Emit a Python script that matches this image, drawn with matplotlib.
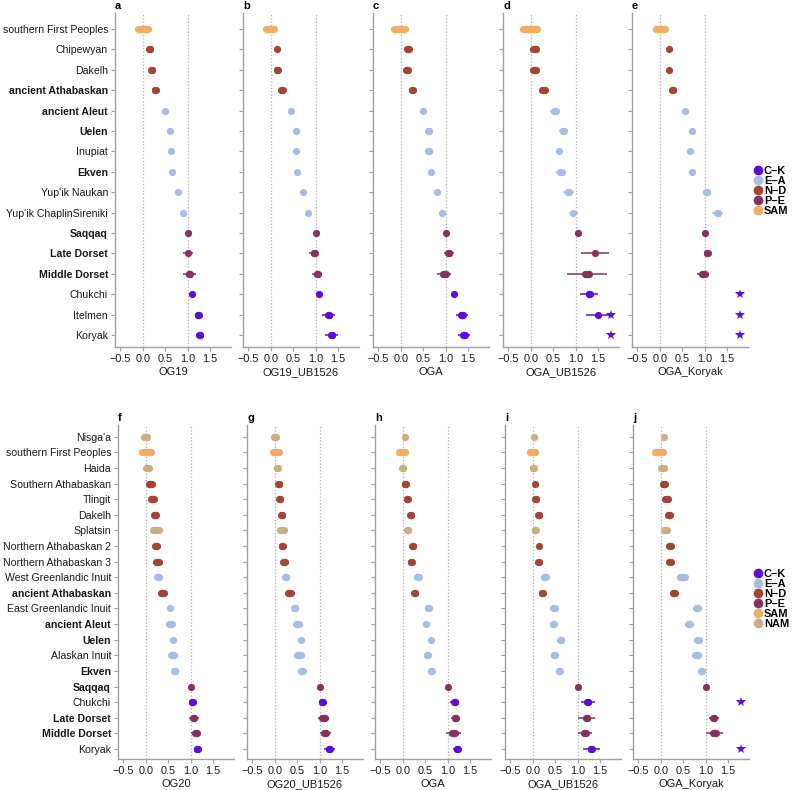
import numpy as np
import matplotlib
matplotlib.use("Agg")
import matplotlib.pyplot as plt
from matplotlib.lines import Line2D

plt.rcParams['font.family'] = ['Liberation Sans', 'DejaVu Sans']

# --- DATA ---
nan = np.nan

group_names = ["C–K", "E–A", "N–D", "P–E", "SAM", "NAM"]
group_colors = {"C–K": "#5b0fd6", "E–A": "#a8bde3", "N–D": "#a34436",
                "P–E": "#86325f", "SAM": "#f0ae62", "NAM": "#c9ae84"}

top_pops = ["southern First Peoples", "Chipewyan", "Dakelh", "ancient Athabaskan",
            "ancient Aleut", "Uelen", "Inupiat", "Ekven", "Yup'ik Naukan",
            "Yup'ik ChaplinSireniki", "Saqqaq", "Late Dorset", "Middle Dorset",
            "Chukchi", "Itelmen", "Koryak"]
top_groups = ["SAM", "N–D", "N–D", "N–D", "E–A", "E–A", "E–A", "E–A", "E–A", "E–A",
              "P–E", "P–E", "P–E", "C–K", "C–K", "C–K"]
top_bold = ["ancient Athabaskan", "ancient Aleut", "Uelen", "Ekven", "Saqqaq",
            "Late Dorset", "Middle Dorset"]

bot_pops = ["Nisga'a", "southern First Peoples", "Haida", "Southern Athabaskan",
            "Tlingit", "Dakelh", "Splatsin", "Northern Athabaskan 2",
            "Northern Athabaskan 3", "West Greenlandic Inuit", "ancient Athabaskan",
            "East Greenlandic Inuit", "ancient Aleut", "Uelen", "Alaskan Inuit",
            "Ekven", "Saqqaq", "Chukchi", "Late Dorset", "Middle Dorset", "Koryak"]
bot_groups = ["NAM", "SAM", "NAM", "N–D", "N–D", "N–D", "NAM", "N–D", "N–D", "E–A",
              "N–D", "E–A", "E–A", "E–A", "E–A", "E–A", "P–E", "C–K", "P–E", "P–E", "C–K"]
bot_bold = ["ancient Athabaskan", "ancient Aleut", "Uelen", "Ekven", "Saqqaq",
            "Late Dorset", "Middle Dorset"]

# estimate, half-width of the thick band, half-width of the thin interval
a_est = [0.0, 0.16, 0.2, 0.28, 0.5, 0.6, 0.62, 0.65, 0.78, 0.89, 1.0, 1.01, 1.04, 1.1, 1.24, 1.27]
a_band = [0.11, 0.01, 0.01, 0.01, 0, 0, 0, 0, 0, 0, 0, 0.01, 0.01, 0, 0.01, 0.01]
a_ci = [0, 0, 0, 0, 0, 0, 0, 0, 0, 0, 0, 0.11, 0.14, 0, 0.08, 0.08]
a_star = []

b_est = [-0.01, 0.14, 0.15, 0.25, 0.46, 0.57, 0.56, 0.59, 0.72, 0.84, 1.0, 0.97, 1.04, 1.08, 1.29, 1.36]
b_band = [0.09, 0.01, 0.01, 0.015, 0, 0, 0, 0, 0, 0, 0, 0.01, 0.01, 0.005, 0.015, 0.015]
b_ci = [0, 0, 0, 0, 0, 0, 0, 0, 0, 0, 0, 0.11, 0.11, 0.06, 0.14, 0.14]
b_star = []

c_est = [-0.03, 0.17, 0.14, 0.26, 0.5, 0.62, 0.62, 0.68, 0.81, 0.93, 1.0, 1.07, 0.97, 1.19, 1.37, 1.41]
c_band = [0.12, 0.02, 0.02, 0.02, 0, 0.005, 0.005, 0, 0, 0, 0, 0.01, 0.03, 0, 0.02, 0.02]
c_ci = [0, 0, 0, 0, 0, 0, 0, 0, 0, 0, 0, 0.11, 0.16, 0.04, 0.14, 0.13]
c_star = []

d_est = [-0.02, 0.085, 0.08, 0.29, 0.54, 0.73, 0.63, 0.67, 0.84, 0.95, 1.05, 1.43, 1.26, 1.31, 1.49, nan]
d_band = [0.16, 0.03, 0.035, 0.03, 0.025, 0.02, 0.01, 0.02, 0.01, 0, 0, 0, 0.045, 0.02, 0, 0]
d_ci = [0, 0, 0, 0, 0.11, 0.11, 0.05, 0.1, 0.12, 0.1, 0, 0.31, 0.44, 0.2, 0.26, 0]
d_star = ["Itelmen", "Koryak"]

e_est = [0.01, 0.21, 0.21, 0.29, 0.56, 0.72, 0.68, 0.73, 1.05, 1.29, 1.0, 1.06, 0.97, nan, nan, nan]
e_band = [0.1, 0.005, 0.005, 0.01, 0, 0, 0, 0, 0.01, 0.02, 0, 0.01, 0.03, 0, 0, 0]
e_ci = [0, 0, 0, 0, 0, 0, 0, 0, 0.06, 0.12, 0, 0.08, 0.14, 0, 0, 0]
e_star = ["Chukchi", "Itelmen", "Koryak"]

f_est = [0.0, 0.02, 0.045, 0.1, 0.15, 0.2, 0.22, 0.23, 0.26, 0.28, 0.37, 0.53, 0.55, 0.6, 0.6,
         0.65, 1.0, 1.04, 1.07, 1.12, 1.15]
f_band = [0.03, 0.1, 0.03, 0.03, 0.025, 0.02, 0.065, 0.02, 0.04, 0.02, 0.035, 0, 0.03, 0, 0.035,
          0.01, 0, 0.005, 0.015, 0.02, 0.01]
f_ci = [0] * 18 + [0.11, 0.11, 0]
f_star = []

g_est = [0.0, 0.02, 0.06, 0.085, 0.11, 0.16, 0.16, 0.17, 0.2, 0.24, 0.32, 0.45, 0.51, 0.59, 0.54,
         0.61, 1.0, 1.06, 1.09, 1.13, 1.22]
g_band = [0.02, 0.07, 0.02, 0.01, 0.01, 0.01, 0.04, 0.01, 0.02, 0.02, 0.035, 0.01, 0.04, 0.005,
          0.04, 0.02, 0, 0.01, 0.03, 0.02, 0.02]
g_ci = [0] * 17 + [0.06, 0.13, 0.12, 0.12]
g_star = []

h_est = [0.04, -0.01, 0.0, 0.06, 0.1, 0.18, 0.11, 0.22, 0.19, 0.34, 0.27, 0.57, 0.51, 0.63, 0.55,
         0.64, 1.0, 1.16, 1.17, 1.14, 1.22]
h_band = [0.0, 0.07, 0.015, 0.01, 0.01, 0.01, 0.005, 0.01, 0.01, 0.03, 0.01, 0.01, 0, 0.01, 0.01,
          0.01, 0, 0.01, 0.01, 0.03, 0.01]
h_ci = [0] * 17 + [0.1, 0.1, 0.17, 0.09]
h_star = []

i_est = [0.03, -0.01, 0.015, 0.05, 0.07, 0.13, 0.06, 0.14, 0.13, 0.27, 0.21, 0.48, 0.46, 0.62, 0.48,
         0.59, 1.0, 1.23, 1.2, 1.16, 1.31]
i_band = [0, 0.06, 0.01, 0.01, 0.01, 0.01, 0.005, 0.01, 0.01, 0.02, 0.01, 0.02, 0.01, 0.02, 0.01,
          0.01, 0, 0.01, 0.01, 0.02, 0.02]
i_ci = [0] * 17 + [0.16, 0.18, 0.16, 0.18]
i_star = []

j_est = [0.07, -0.04, 0.04, 0.07, 0.13, 0.19, 0.1, 0.21, 0.2, 0.49, 0.3, 0.81, 0.63, 0.84, 0.8,
         0.91, 1.0, nan, 1.18, 1.2, nan]
j_band = [0.005, 0.08, 0.04, 0.03, 0.03, 0.025, 0.03, 0.02, 0.02, 0.06, 0.02, 0.03, 0.02, 0.02,
          0.04, 0.01, 0, 0, 0.01, 0.03, 0]
j_ci = [0] * 18 + [0.11, 0.18, 0]
j_star = ["Chukchi", "Koryak"]

top_panels = [("a", "OG19", a_est, a_band, a_ci, a_star),
              ("b", "OG19_UB1526", b_est, b_band, b_ci, b_star),
              ("c", "OGA", c_est, c_band, c_ci, c_star),
              ("d", "OGA_UB1526", d_est, d_band, d_ci, d_star),
              ("e", "OGA_Koryak", e_est, e_band, e_ci, e_star)]
bot_panels = [("f", "OG20", f_est, f_band, f_ci, f_star),
              ("g", "OG20_UB1526", g_est, g_band, g_ci, g_star),
              ("h", "OGA", h_est, h_band, h_ci, h_star),
              ("i", "OGA_UB1526", i_est, i_band, i_ci, i_star),
              ("j", "OGA_Koryak", j_est, j_band, j_ci, j_star)]

STAR_X = 1.79
W, H = 800, 790
DOT = 5.2  # marker / band thickness in points


def draw_panel(ax, pops, groups, bold, panel, show_labels, ylim):
    letter, xlabel, est, band, ci, stars = panel
    ax.axvline(0, color="#b0b0b0", ls=":", lw=0.9, zorder=0)
    ax.axvline(1, color="#b0b0b0", ls=":", lw=0.9, zorder=0)
    for k, pop in enumerate(pops):
        col = group_colors[groups[k]]
        c = est[k]
        if not np.isnan(c):
            if ci[k] > 0:
                ax.plot([c - ci[k], c + ci[k]], [k, k], color=col, lw=1.3, alpha=0.85,
                        solid_capstyle="butt", zorder=2)
            if band[k] > 0:
                ax.plot([c - band[k], c + band[k]], [k, k], color=col, lw=DOT,
                        solid_capstyle="round", zorder=3)
            ax.plot(c, k, "o", color=col, ms=DOT, mew=0, zorder=4)
        if pop in stars:
            ax.plot(STAR_X, k, "*", color=group_colors["C–K"], ms=7.5, mew=0, zorder=5)

    ax.set_xlim(-0.62, 1.97)
    ax.set_ylim(*ylim)
    ax.set_xticks([-0.5, 0.0, 0.5, 1.0, 1.5])
    ax.set_xticklabels(["−0.5", "0.0", "0.5", "1.0", "1.5"])
    ax.set_yticks(range(len(pops)))
    if show_labels:
        ax.set_yticklabels(pops)
        for t in ax.get_yticklabels():
            if t.get_text() in bold:
                t.set_fontweight("bold")
    else:
        ax.set_yticklabels([])
    for s in ["top", "right"]:
        ax.spines[s].set_visible(False)
    for s in ["left", "bottom"]:
        ax.spines[s].set_color("#a0a0a0")
        ax.spines[s].set_linewidth(1.0)
    ax.tick_params(colors="#a0a0a0", labelcolor="#1a1a1a", labelsize=7.6, length=3,
                   width=0.8, pad=2)
    ax.tick_params(axis="x", labelsize=7.8)
    ax.set_xlabel(xlabel, fontsize=8, color="#1a1a1a", labelpad=2)
    ax.set_title(letter, loc="left", fontweight="bold", fontsize=8, pad=3, x=0.0)


fig = plt.figure(figsize=(8, 7.9), dpi=100)

top_lefts = [115, 243, 373, 503, 632]
bot_lefts = [118, 247, 375, 505, 633]
pw = 116
for n, panel in enumerate(top_panels):
    ax = fig.add_axes([top_lefts[n] / W, 1 - 347 / H, pw / W, 334 / H])
    draw_panel(ax, top_pops, top_groups, top_bold, panel, n == 0, (15.59, -0.78))
for n, panel in enumerate(bot_panels):
    ax = fig.add_axes([bot_lefts[n] / W, 1 - 759 / H, pw / W, 334 / H])
    draw_panel(ax, bot_pops, bot_groups, bot_bold, panel, n == 0, (20.64, -0.75))


def legend_handles(names):
    return [Line2D([], [], ls="", marker="o", ms=7, mew=0, color=group_colors[g]) for g in names]


leg_kw = dict(loc="center left", frameon=False, handlelength=0.6, handletextpad=0.2,
              labelspacing=0.0, borderaxespad=0, borderpad=0,
              prop=dict(weight="bold", size=7.9))
top_groups_leg = group_names[:5]
fig.legend(legend_handles(top_groups_leg), top_groups_leg,
           bbox_to_anchor=(755 / W, 1 - 191 / H), **leg_kw)
fig.legend(legend_handles(group_names), group_names,
           bbox_to_anchor=(755 / W, 1 - 599 / H), **leg_kw)

fig.savefig("out.png", dpi=100)
plt.close(fig)
